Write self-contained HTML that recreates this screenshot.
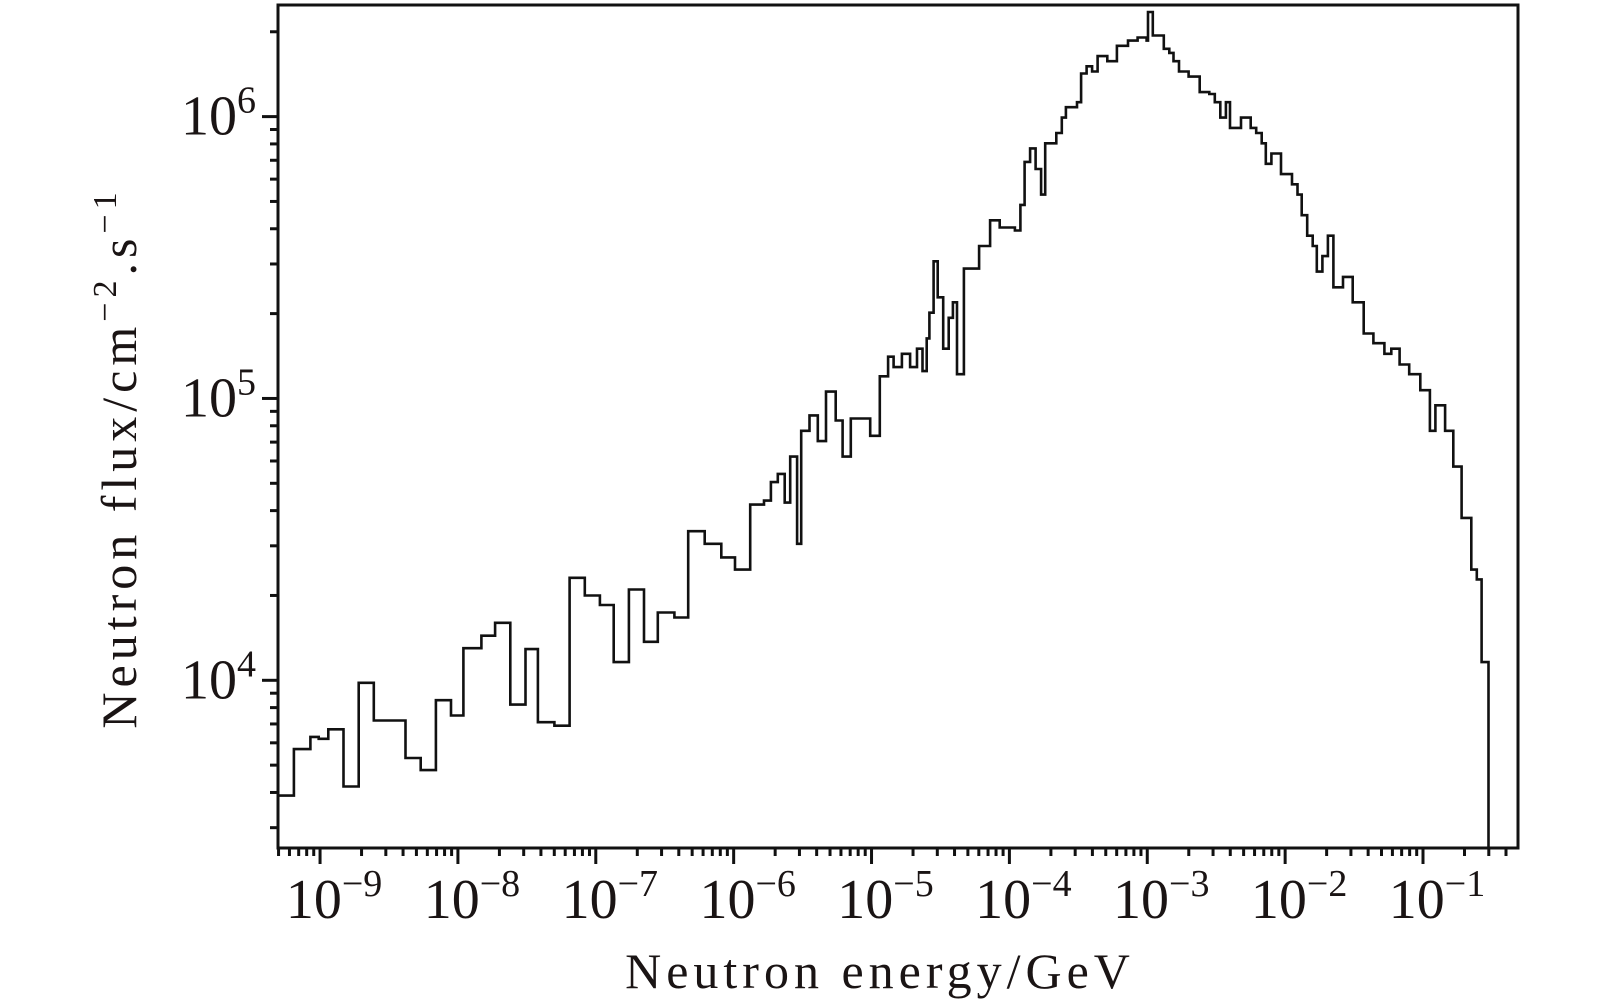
<!DOCTYPE html>
<html><head><meta charset="utf-8"><style>
html,body{margin:0;padding:0;background:#fff;}
svg{display:block;}
text{font-family:"Liberation Serif",serif;fill:#1a1414;}
</style></head><body>
<svg id="chart" width="1600" height="1000" viewBox="0 0 1600 1000" xmlns="http://www.w3.org/2000/svg">
<g id="ticks"></g>
<path id="hist" fill="none" stroke="#111" stroke-width="2.6" stroke-linejoin="miter"></path>
<rect x="278" y="5" width="1240" height="843" fill="none" stroke="#111" stroke-width="3"></rect>
<g id="labels"></g>
<text x="880" y="988" font-size="50" letter-spacing="5" text-anchor="middle">Neutron energy/GeV</text>
<text transform="translate(136,458) rotate(-90)" font-size="50" letter-spacing="5" text-anchor="middle">Neutron flux/cm<tspan dy="-20" font-size="34">−2</tspan><tspan dy="20">.s</tspan><tspan dy="-20" font-size="34">−1</tspan></text>
</svg>
<script>
// log10 of bin lower edges (GeV); last entry is upper edge of final bin
const binEdgesLog = [-9.30,-9.19,-9.07,-9.01,-8.94,-8.83,-8.72,-8.61,-8.49,-8.38,-8.27,-8.16,-8.05,-7.96,-7.83,-7.73,-7.62,-7.51,-7.42,-7.30,-7.19,-7.08,-6.97,-6.87,-6.76,-6.65,-6.55,-6.43,-6.33,-6.21,-6.09,-5.99,-5.88,-5.78,-5.73,-5.68,-5.63,-5.59,-5.54,-5.51,-5.45,-5.39,-5.33,-5.26,-5.21,-5.15,-5.07,-5.01,-4.94,-4.88,-4.84,-4.78,-4.72,-4.67,-4.63,-4.60,-4.58,-4.55,-4.52,-4.48,-4.44,-4.41,-4.38,-4.33,-4.26,-4.22,-4.14,-4.07,-3.96,-3.92,-3.89,-3.85,-3.81,-3.77,-3.74,-3.66,-3.62,-3.59,-3.51,-3.48,-3.44,-3.40,-3.36,-3.29,-3.22,-3.14,-3.07,-3.005,-2.995,-2.96,-2.88,-2.84,-2.81,-2.77,-2.70,-2.62,-2.55,-2.51,-2.47,-2.43,-2.40,-2.32,-2.25,-2.21,-2.17,-2.14,-2.10,-2.03,-1.95,-1.91,-1.88,-1.84,-1.80,-1.77,-1.73,-1.69,-1.65,-1.58,-1.51,-1.43,-1.36,-1.28,-1.23,-1.17,-1.10,-1.02,-0.95,-0.91,-0.84,-0.78,-0.72,-0.65,-0.61,-0.575,-0.525];
// flux per bin (cm^-2 s^-1)
const fluxValues = [3900,5700,6300,6200,6700,4200,9800,7200,7200,5300,4800,8500,7500,13000,14400,16000,8200,12900,7100,6900,23100,20000,18500,11600,21000,13700,17400,16700,33800,30500,27300,24700,42000,43400,50500,54000,42700,62200,30500,76800,87100,70600,105800,83500,62200,84900,84900,73700,119800,140600,129200,144000,129200,150200,125000,163300,201500,306600,228500,150200,193200,219300,121900,289000,289000,347600,428500,404300,394300,486000,691000,771000,652000,529000,804000,875000,992000,1080000,1125000,1422000,1508000,1446000,1640000,1572000,1784000,1860000,1908000,1860000,2350000,1940000,1740000,1683000,1572000,1446000,1387000,1222000,1203000,1125000,992000,1125000,912000,992000,912000,875000,804000,680000,740000,625000,575000,529000,447000,378000,347600,282000,320000,378000,248000,270000,219300,170000,157000,144000,150200,132000,121900,107000,76800,94600,76800,57300,37700,24700,22800,11600,4070];
const xTickExps = [-9,-8,-7,-6,-5,-4,-3,-2,-1];
const yTickExps = [4,5,6];

const X0=278, X1=1518, Y0=5, Y1=848;
const xMinLog=-9.305, xMaxLog=-0.311, yMinLog=3.405, yMaxLog=6.396;
const xs = l => X0 + (l - xMinLog)/(xMaxLog - xMinLog)*(X1-X0);
const ys = l => Y1 - (l - yMinLog)/(yMaxLog - yMinLog)*(Y1-Y0);
const NS="http://www.w3.org/2000/svg";

const n = Math.min(fluxValues.length, binEdgesLog.length-1);
let d = "M"+xs(binEdgesLog[0]).toFixed(1)+","+ys(Math.log10(fluxValues[0])).toFixed(1);
for (let i=0;i<n;i++){
  const y = ys(Math.log10(fluxValues[i]));
  if (i>0) d += " V"+y.toFixed(1);
  d += " H"+xs(binEdgesLog[i+1]).toFixed(1);
}
d += " V"+Y1;
document.getElementById('hist').setAttribute('d', d);

const tg=document.getElementById('ticks'), lg=document.getElementById('labels');
function line(x1,y1,x2,y2,name){
  const l=document.createElementNS(NS,'line');
  l.setAttribute('x1',x1);l.setAttribute('y1',y1);l.setAttribute('x2',x2);l.setAttribute('y2',y2);
  l.setAttribute('stroke','#111');l.setAttribute('stroke-width','3');
  
  
  tg.appendChild(l);
}
for (let e=-10;e<=0;e++){
  for (let m=1;m<10;m++){
    const lv=e+Math.log10(m);
    if (lv<xMinLog||lv>xMaxLog) continue;
    const x=xs(lv);
    if (m===1) line(x,Y1,x,Y1+16,'x-major-tick'); else line(x,Y1,x,Y1+8,'x-minor-tick');
  }
}
for (let e=3;e<=6;e++){
  for (let m=1;m<10;m++){
    const lv=e+Math.log10(m);
    if (lv<yMinLog||lv>yMaxLog) continue;
    const y=ys(lv);
    if (m===1) line(X0-16,y,X0,y,'y-major-tick'); else line(X0-8,y,X0,y,'y-minor-tick');
  }
}
function label(x,y,exp,anchor,name){
  const t=document.createElementNS(NS,'text');
  t.setAttribute('x',x);t.setAttribute('y',y);t.setAttribute('font-size','56');t.setAttribute('text-anchor',anchor);
  
  
  t.innerHTML='10<tspan dy="-22" font-size="38">'+exp+'</tspan>';
  lg.appendChild(t);
}
xTickExps.forEach(e=>label(xs(e)+14,918,(e<0?'−':'')+Math.abs(e),'middle','x-tick-label'));
yTickExps.forEach(e=>label(256,ys(e)+18,String(e),'end','y-tick-label'));
</script>
</body></html>
